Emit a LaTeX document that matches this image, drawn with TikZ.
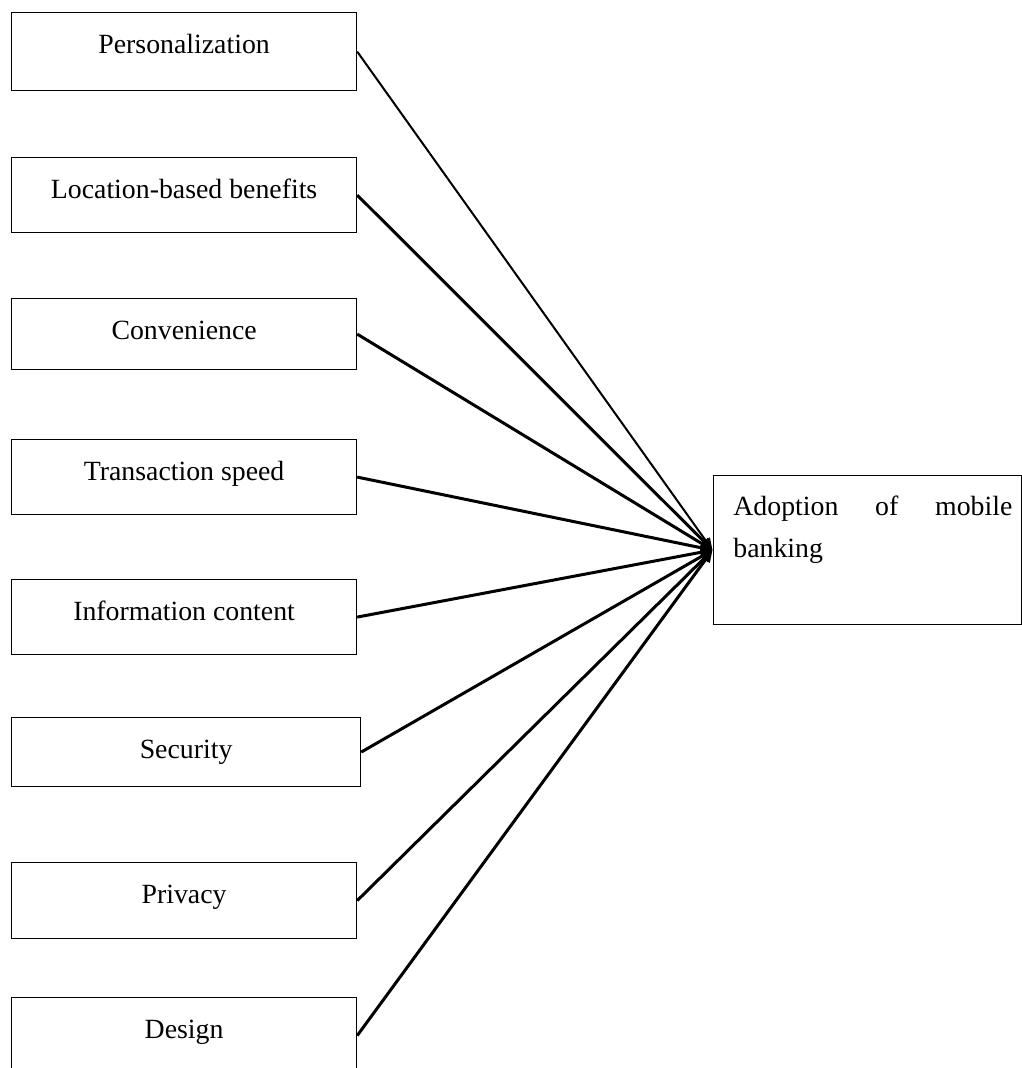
\documentclass[tikz,border=0pt]{standalone}
\usepackage{fontspec}
\setmainfont{Liberation Serif}
\usetikzlibrary{arrows.meta}
\begin{document}
\begin{tikzpicture}[x=0.5pt,y=-0.5pt,
  factor/.style={draw, line width=0.6pt, inner sep=0pt, anchor=north west,
    minimum width=172.5pt, text height=20.5pt, text depth=#1,
    font=\fontsize{13.9}{16}\selectfont},
  outbox/.style={draw, line width=0.6pt, inner sep=0pt, anchor=north west,
    minimum width=154pt, minimum height=74.5pt},
  txt/.style={inner sep=0pt, anchor=base west, font=\fontsize{13.9}{16}\selectfont},
  thin arrow/.style={line width=1pt, -{Triangle[length=6pt,width=5pt]}},
  thick arrow/.style={line width=1.5pt, -{Triangle[length=6pt,width=5pt]}}]
\useasboundingbox (0,0) rectangle (1021,1068);
\node[factor=18.5pt] (pers) at (11,12) {Personalization};
\node[factor=17pt] (loc) at (11,157) {Location-based benefits};
\node[factor=15pt] (conv) at (11,298) {Convenience};
\node[factor=17pt] (speed) at (11,439) {Transaction speed};
\node[factor=17pt] (info) at (11,579) {Information content};
\node[factor=14pt, minimum width=174.5pt] (sec) at (11,717) {Security};
\node[factor=17.5pt] (priv) at (11,862) {Privacy};
\node[factor=17.5pt] (des) at (11,997) {Design};
\node[outbox] (adopt) at (712.5,475) {};
\node[txt, text width=139.5pt] (adopt1) at (733,515) {Adoption\hfill of\hfill mobile};
\node[txt] (adopt2) at (733,557) {banking};
\draw[thin arrow] (pers.east) -- (adopt.west);
\foreach \n in {loc,conv,speed,info,sec,priv,des}
  \draw[thick arrow] (\n.east) -- (adopt.west);
\end{tikzpicture}
\end{document}
